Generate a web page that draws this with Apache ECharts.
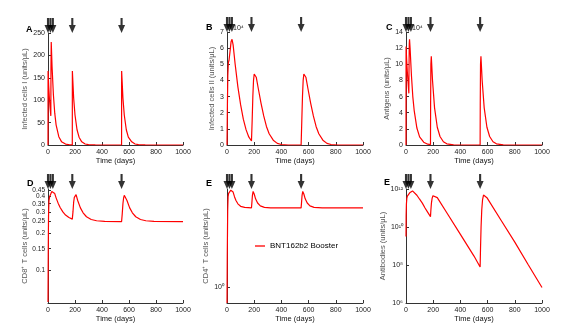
<!DOCTYPE html>
<html><head><meta charset="utf-8">
<script src="https://cdn.jsdelivr.net/npm/echarts@6/dist/echarts.min.js"></script>
<style>html,body{margin:0;padding:0;background:#fff}#c{width:583px;height:330px}</style>
</head><body><div id="c"></div>
<script>
// ---- data ----
const xTicks = [0, 200, 400, 600, 800, 1000];
const arrowDays = [0, 18, 36, 180, 545];

const tA = [0,0.5,5,10,15,21,22,24,30,40,50,60,80,100,130,160,180,180.5,190,200,215,230,250,275,300,350,400,545,545.5,555,565,580,595,620,645,670,720,1000];
const vA = [0,165,132,106,85,65,170,230,175,112,71,45,18.5,7.5,2,0.5,0.2,165,105,67,34,17.4,7,2.3,0.7,0.1,0,0,165,105,67,34,17.4,7,2.3,0.7,0.1,0];

const tB = [0,3,6,10,15,21,25,30,37,45,60,80,100,120,140,160,180,185,190,195,200,205,215,230,250,270,290,310,340,370,400,450,545,550,555,560,565,570,580,595,615,635,655,675,705,735,765,815,1000];
const vB = [0,2.5,4.3,5.1,5.25,5.35,6.0,6.4,6.55,6.2,5.0,3.6,2.5,1.6,0.95,0.5,0.25,1.5,3.0,4.0,4.4,4.5,4.2,3.5,2.6,1.8,1.15,0.7,0.3,0.1,0.03,0,0,1.5,3.0,4.0,4.4,4.5,4.2,3.5,2.6,1.8,1.15,0.7,0.3,0.1,0.03,0,0];

const tC = [0,0.5,5,10,15,21,22,24,26,30,40,50,60,80,100,130,160,180,181,183,186,195,210,230,250,275,300,350,545,546,548,551,560,575,595,615,640,665,715,1000];
const vC = [0,12.2,10.5,9.0,7.8,6.4,9,12.5,13.1,12.0,8.6,6.0,4.3,2.1,1.0,0.35,0.1,0.05,5,10,11,8.0,4.6,2.2,1.05,0.4,0.15,0.02,0,5,10,11,8.0,4.6,2.2,1.05,0.4,0.15,0.02,0];

const tD = [0,2,4,7,12,21,28,35,42,50,60,75,90,110,130,155,180,185,190,195,200,208,220,240,260,285,320,360,420,545,550,555,560,565,573,585,605,625,650,685,725,785,1000];
const vD = [0.055,0.15,0.28,0.37,0.40,0.41,0.44,0.452,0.455,0.424,0.391,0.354,0.326,0.300,0.283,0.270,0.262,0.30,0.36,0.395,0.41,0.415,0.372,0.324,0.295,0.274,0.260,0.254,0.251,0.25,0.29,0.35,0.39,0.41,0.415,0.372,0.324,0.295,0.274,0.260,0.254,0.251,0.25];

const tE = [0,2,5,8,12,21,28,37,45,55,65,80,100,130,180,183,187,192,200,210,225,245,275,320,545,548,552,557,565,575,590,610,640,700,1000];
const vE = [0.72,2.0,5.0,6.8,7.3,7.4,7.8,7.95,7.5,6.8,6.3,5.85,5.55,5.42,5.38,6.0,7.0,7.6,7.2,6.5,5.95,5.6,5.43,5.38,5.37,6.0,7.0,7.6,7.2,6.5,5.95,5.6,5.43,5.38,5.37];

const tF = [0,1,3,6,10,21,30,40,48,60,80,100,120,140,160,180,183,187,192,198,205,212,230,300,400,500,545,548,552,557,563,570,577,595,700,800,900,1000];
const vF = [3.16e9,4e10,1.6e11,3.2e11,4.2e11,5e11,6.6e11,7.6e11,7.9e11,7.1e11,4.7e11,2.9e11,1.8e11,1.0e11,5.9e10,3.5e10,7.9e10,1.8e11,3.2e11,4.4e11,5.1e11,5.2e11,3.5e11,5.6e10,4.1e9,2.95e8,7.9e7,7.9e8,1e10,7.9e10,2.8e11,4.8e11,5.2e11,3.5e11,2.2e10,1.6e9,1e8,6.5e6];

const yTicksD = [0.1,0.15,0.2,0.25,0.3,0.35,0.4,0.45];
const yTicksE = [1];
const yTicksF = [1e6,1e8,1e10,1e12];

// ---- layout ----
const grids = [
  {left:48, top:33, width:135, height:112},
  {left:227, top:32, width:136, height:113},
  {left:406, top:32, width:136, height:113},
  {left:48, top:189, width:135, height:114},
  {left:227, top:189, width:136, height:114},
  {left:406, top:189, width:136, height:114}
];
const FONT = 'Liberation Sans, Arial, sans-serif';
const supMap = {'0':'⁰','1':'¹','2':'²','3':'³','4':'⁴','5':'⁵','6':'⁶','7':'⁷','8':'⁸','9':'⁹','-':'⁻'};
const pow10 = v => '10' + String(Math.round(Math.log10(v))).split('').map(c=>supMap[c]).join('');

function xAxis(i){
  return {gridIndex:i, type:'value', min:0, max:1000, interval:200,
    name:'Time (days)', nameLocation:'middle', nameGap:12,
    nameTextStyle:{fontSize:7.5, color:'#111', fontFamily:FONT},
    axisLine:{show:true, lineStyle:{color:'#333', width:1}},
    axisTick:{show:true, inside:true, length:3, lineStyle:{color:'#333'}},
    axisLabel:{fontSize:7, color:'#222', margin:4, fontFamily:FONT, formatter:v=>String(v)},
    splitLine:{show:false}};
}
function yBase(i, name, gap){
  return {gridIndex:i, name:name, nameLocation:'middle', nameGap:gap,
    nameTextStyle:{fontSize:7.5, color:'#555', fontFamily:FONT},
    axisLine:{show:true, lineStyle:{color:'#333', width:1}},
    axisTick:{show:true, inside:true, length:3, lineStyle:{color:'#333'}},
    axisLabel:{fontSize:7, color:'#222', margin:3, fontFamily:FONT, hideOverlap:false},
    splitLine:{show:false}};
}
const yMax = [250,7,14,0.462,8,1e12];
const yAxes = [
  Object.assign(yBase(0,'Infected cells I (units/μL)',15), {type:'value', min:0, max:250, interval:50}),
  Object.assign(yBase(1,'Infected cells II (units/μL)',6), {type:'value', min:0, max:7, interval:1}),
  Object.assign(yBase(2,'Antigens (units/μL)',10), {type:'value', min:0, max:14, interval:2}),
  Object.assign(yBase(3,'CD8⁺ T cells (units/μL)',17), {type:'log', logBase:10, min:0.054, max:yMax[3]}),
  Object.assign(yBase(4,'CD4⁺ T cells (units/μL)',14), {type:'log', logBase:10, min:0.72, max:8}),
  Object.assign(yBase(5,'Antibodies (units/μL)',16), {type:'log', logBase:10, min:1e6, max:1e12})
];
// an empty label at the axis end keeps 0.4 and 0.45 both visible
yAxes[3].axisLabel = Object.assign({}, yAxes[3].axisLabel, {customValues:yTicksD.concat([yMax[3]]), fontSize:6.5,
  formatter:v=>(v > 0.455 ? '' : String(+v.toFixed(2)))});
yAxes[3].axisTick = Object.assign({}, yAxes[3].axisTick, {customValues:yTicksD});
yAxes[4].axisLabel = Object.assign({}, yAxes[4].axisLabel, {customValues:yTicksE, formatter:v=>pow10(v)});
yAxes[4].axisTick = Object.assign({}, yAxes[4].axisTick, {customValues:yTicksE});
yAxes[5].axisLabel = Object.assign({}, yAxes[5].axisLabel, {customValues:yTicksF, formatter:v=>pow10(v)});
yAxes[5].axisTick = Object.assign({}, yAxes[5].axisTick, {customValues:yTicksF});

const zip = (t,v) => t.map((x,k)=>[x,v[k]]);
const curves = [[tA,vA],[tB,vB],[tC,vC],[tD,vD],[tE,vE],[tF,vF]];
const arrowPath = 'path://M3.5,0 L6.5,0 L6.5,7 L10,7 L5,15 L0,7 L3.5,7 Z';

const series = [];
curves.forEach((c,i)=>{
  series.push({type:'line', name: i===4 ? 'BNT162b2 Booster' : 'curve'+i,
    xAxisIndex:i, yAxisIndex:i, data:zip(c[0],c[1]), showSymbol:false, symbol:'none',
    lineStyle:{color:'#ff0000', width:1.2}, itemStyle:{color:'#ff0000'}, animation:false});
  series.push({type:'scatter', xAxisIndex:i, yAxisIndex:i, clip:false, silent:true,
    data:arrowDays.map(d=>[d,yMax[i]]), symbol:arrowPath, symbolSize:[7,15],
    symbolOffset:[0,-7.5], itemStyle:{color:'#000'}, animation:false, z:5});
});

const letters = [['A',29,25],['B',209,23],['C',389,23],['D',30,179],['E',209,179],['E',387,178]];
const titles = letters.map(l=>({text:l[0], left:l[1]-3, top:l[2], padding:0, textStyle:{fontSize:9, fontWeight:'bold', color:'#000', fontFamily:FONT}}));
titles.push({text:'10⁴', left:233, top:25, padding:0, textStyle:{fontSize:7, fontWeight:'normal', color:'#222', fontFamily:FONT}});
titles.push({text:'10⁴', left:412, top:25, padding:0, textStyle:{fontSize:7, fontWeight:'normal', color:'#222', fontFamily:FONT}});

const chart = echarts.init(document.getElementById('c'), null, {renderer:'canvas'});
chart.setOption({
  backgroundColor:'#fff',
  animation:false,
  title: titles,
  grid: grids,
  xAxis: grids.map((g,i)=>xAxis(i)),
  yAxis: yAxes,
  legend:{data:['BNT162b2 Booster'], left:255, top:242, padding:0, icon:'rect', itemWidth:10, itemHeight:1.3, itemGap:2,
    textStyle:{fontSize:8, color:'#000', fontFamily:FONT, padding:[0,0,0,0]}, selectedMode:false},
  series: series
});
</script></body></html>
